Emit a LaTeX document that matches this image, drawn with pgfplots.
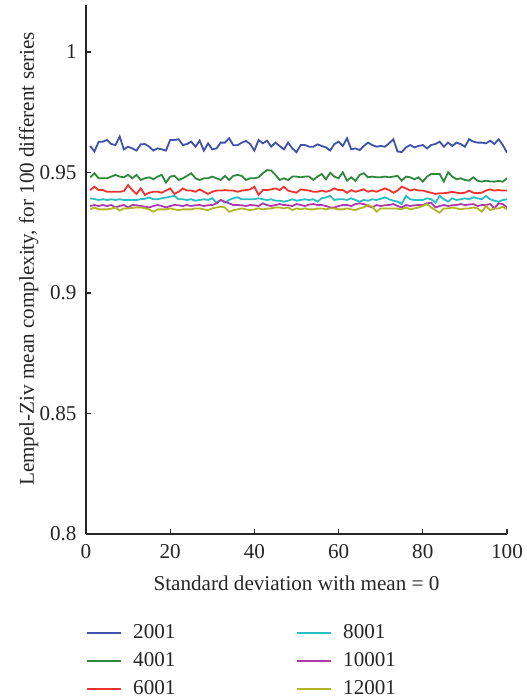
\documentclass[border=0pt]{standalone}
\usepackage{fontspec}
\setmainfont{Liberation Serif}
\usepackage{pgfplots}
\usepackage{pgfplotstable}
\pgfplotsset{compat=1.18}
\definecolor{cA}{RGB}{63,81,170}
\definecolor{cB}{RGB}{46,135,60}
\definecolor{cC}{RGB}{240,50,50}
\definecolor{cD}{RGB}{40,190,195}
\definecolor{cE}{RGB}{170,60,170}
\definecolor{cF}{RGB}{180,180,40}
\pgfplotstableread{
x a b c d e f
1 0.9610 0.9480 0.9427 0.9393 0.9361 0.9347
2 0.9587 0.9497 0.9441 0.9390 0.9365 0.9355
3 0.9627 0.9476 0.9427 0.9386 0.9361 0.9347
4 0.9628 0.9476 0.9427 0.9389 0.9365 0.9347
5 0.9635 0.9476 0.9420 0.9386 0.9361 0.9347
6 0.9618 0.9483 0.9420 0.9389 0.9365 0.9350
7 0.9614 0.9490 0.9420 0.9386 0.9355 0.9355
8 0.9649 0.9483 0.9420 0.9389 0.9361 0.9342
9 0.9596 0.9480 0.9423 0.9386 0.9365 0.9351
10 0.9607 0.9490 0.9448 0.9386 0.9355 0.9351
11 0.9600 0.9476 0.9427 0.9386 0.9365 0.9353
12 0.9591 0.9490 0.9411 0.9386 0.9364 0.9355
13 0.9617 0.9469 0.9434 0.9389 0.9361 0.9355
14 0.9618 0.9476 0.9407 0.9391 0.9358 0.9351
15 0.9607 0.9480 0.9416 0.9396 0.9355 0.9347
16 0.9591 0.9472 0.9420 0.9389 0.9361 0.9337
17 0.9600 0.9483 0.9420 0.9389 0.9365 0.9347
18 0.9596 0.9490 0.9416 0.9393 0.9361 0.9347
19 0.9591 0.9458 0.9425 0.9396 0.9355 0.9347
20 0.9635 0.9483 0.9434 0.9400 0.9361 0.9351
21 0.9635 0.9486 0.9411 0.9403 0.9365 0.9347
22 0.9638 0.9469 0.9420 0.9389 0.9364 0.9344
23 0.9614 0.9476 0.9434 0.9389 0.9361 0.9347
24 0.9618 0.9486 0.9425 0.9386 0.9365 0.9347
25 0.9628 0.9497 0.9425 0.9389 0.9361 0.9347
26 0.9607 0.9476 0.9420 0.9383 0.9364 0.9351
27 0.9632 0.9469 0.9430 0.9386 0.9365 0.9351
28 0.9591 0.9476 0.9420 0.9389 0.9361 0.9347
29 0.9621 0.9476 0.9411 0.9386 0.9364 0.9344
30 0.9596 0.9483 0.9420 0.9393 0.9365 0.9351
31 0.9600 0.9476 0.9425 0.9375 0.9372 0.9355
32 0.9624 0.9469 0.9425 0.9386 0.9386 0.9358
33 0.9624 0.9486 0.9427 0.9375 0.9379 0.9355
34 0.9642 0.9469 0.9425 0.9386 0.9372 0.9337
35 0.9613 0.9486 0.9425 0.9393 0.9365 0.9344
36 0.9613 0.9490 0.9420 0.9397 0.9365 0.9347
37 0.9624 0.9486 0.9425 0.9389 0.9364 0.9351
38 0.9631 0.9469 0.9427 0.9389 0.9361 0.9347
39 0.9618 0.9476 0.9430 0.9389 0.9365 0.9344
40 0.9591 0.9476 0.9441 0.9389 0.9364 0.9347
41 0.9635 0.9480 0.9407 0.9393 0.9361 0.9351
42 0.9621 0.9497 0.9427 0.9389 0.9372 0.9347
43 0.9632 0.9510 0.9427 0.9386 0.9365 0.9350
44 0.9607 0.9508 0.9430 0.9389 0.9361 0.9351
45 0.9624 0.9490 0.9434 0.9383 0.9365 0.9355
46 0.9610 0.9469 0.9427 0.9383 0.9369 0.9355
47 0.9596 0.9476 0.9441 0.9379 0.9365 0.9351
48 0.9624 0.9469 0.9425 0.9383 0.9364 0.9355
49 0.9600 0.9483 0.9420 0.9389 0.9361 0.9344
50 0.9584 0.9483 0.9416 0.9383 0.9369 0.9351
51 0.9614 0.9480 0.9430 0.9386 0.9365 0.9347
52 0.9614 0.9483 0.9427 0.9389 0.9361 0.9351
53 0.9607 0.9483 0.9425 0.9386 0.9367 0.9347
54 0.9607 0.9469 0.9420 0.9389 0.9369 0.9347
55 0.9617 0.9483 0.9420 0.9379 0.9365 0.9350
56 0.9610 0.9494 0.9425 0.9393 0.9365 0.9351
57 0.9604 0.9472 0.9420 0.9397 0.9361 0.9347
58 0.9591 0.9499 0.9425 0.9403 0.9355 0.9351
59 0.9618 0.9483 0.9434 0.9386 0.9355 0.9351
60 0.9628 0.9476 0.9427 0.9389 0.9361 0.9347
61 0.9610 0.9501 0.9427 0.9389 0.9365 0.9347
62 0.9642 0.9466 0.9416 0.9386 0.9365 0.9351
63 0.9596 0.9480 0.9427 0.9393 0.9361 0.9347
64 0.9600 0.9465 0.9420 0.9386 0.9369 0.9344
65 0.9593 0.9490 0.9425 0.9379 0.9372 0.9351
66 0.9610 0.9497 0.9430 0.9386 0.9369 0.9355
67 0.9624 0.9480 0.9420 0.9383 0.9361 0.9365
68 0.9614 0.9483 0.9425 0.9389 0.9355 0.9358
69 0.9607 0.9480 0.9420 0.9386 0.9365 0.9337
70 0.9610 0.9480 0.9427 0.9391 0.9361 0.9351
71 0.9607 0.9483 0.9434 0.9397 0.9364 0.9351
72 0.9621 0.9480 0.9427 0.9389 0.9365 0.9351
73 0.9638 0.9483 0.9416 0.9383 0.9369 0.9351
74 0.9587 0.9486 0.9425 0.9379 0.9361 0.9350
75 0.9585 0.9466 0.9441 0.9369 0.9355 0.9347
76 0.9604 0.9483 0.9434 0.9403 0.9365 0.9355
77 0.9614 0.9480 0.9425 0.9389 0.9361 0.9347
78 0.9604 0.9472 0.9430 0.9386 0.9364 0.9351
79 0.9610 0.9480 0.9425 0.9386 0.9365 0.9355
80 0.9614 0.9462 0.9425 0.9386 0.9365 0.9361
81 0.9600 0.9483 0.9420 0.9393 0.9372 0.9369
82 0.9614 0.9494 0.9416 0.9389 0.9375 0.9355
83 0.9618 0.9494 0.9411 0.9375 0.9355 0.9344
84 0.9628 0.9494 0.9414 0.9403 0.9361 0.9333
85 0.9607 0.9462 0.9414 0.9389 0.9365 0.9351
86 0.9624 0.9501 0.9416 0.9379 0.9361 0.9351
87 0.9610 0.9483 0.9420 0.9393 0.9364 0.9355
88 0.9624 0.9472 0.9416 0.9386 0.9365 0.9351
89 0.9618 0.9476 0.9414 0.9389 0.9369 0.9347
90 0.9607 0.9469 0.9416 0.9393 0.9365 0.9351
91 0.9638 0.9466 0.9425 0.9389 0.9367 0.9351
92 0.9628 0.9480 0.9416 0.9397 0.9369 0.9355
93 0.9624 0.9466 0.9414 0.9393 0.9361 0.9351
94 0.9624 0.9462 0.9416 0.9389 0.9365 0.9337
95 0.9621 0.9466 0.9425 0.9403 0.9365 0.9361
96 0.9632 0.9463 0.9430 0.9389 0.9369 0.9344
97 0.9618 0.9462 0.9425 0.9383 0.9351 0.9351
98 0.9638 0.9465 0.9427 0.9379 0.9372 0.9351
99 0.9614 0.9462 0.9425 0.9386 0.9369 0.9358
100 0.9582 0.9476 0.9425 0.9389 0.9355 0.9347
}\lzdata
\begin{document}
\fontsize{10.6}{12.7}\selectfont
\begin{tikzpicture}
\useasboundingbox (-43bp,-81.5bp) rectangle (220.5bp,267bp);
\begin{axis}[
  at={(0bp,0bp)}, anchor=south west,
  scale only axis, width=210.5bp, height=264.5bp,
  xmin=0, xmax=100, ymin=0.8, ymax=1.0195,
  axis lines*=left,
  axis line style={-, line width=0.7bp, color=black!85},
  tick align=inside, major tick length=2.5bp,
  tick style={black!85, line width=0.6bp},
  xtick={0,20,...,100}, ytick={0.8,0.85,0.9,0.95,1},
  /pgf/number format/assume math mode=true,
  ticklabel style={font=\fontsize{10.6}{12.7}\selectfont, text=black!85},
  xticklabel style={yshift=-1.5bp},
  yticklabel style={xshift=-1bp},
  label style={font=\fontsize{10.6}{12.7}\selectfont, text=black!85},
  xlabel={Standard deviation with mean = 0},
  ylabel={Lempel-Ziv mean complexity, for 100 different series},
  xlabel style={at={(axis description cs:0.5,-0.0926)}, anchor=center},
  ylabel style={at={(axis description cs:-0.136,0.52)}, anchor=center},
  legend columns=2,
  legend cell align=left,
  legend style={draw=none, fill=none, at={(axis description cs:0,-0.163)},
    anchor=north west, inner sep=0pt, font=\fontsize{10.6}{12.7}\selectfont,
    text=black!85, row sep=1.3bp,
    /tikz/every odd column/.append style={column sep=3.5bp},
    /tikz/every even column/.append style={column sep=58.5bp}},
  every axis plot/.append style={line width=0.9bp},
]
\addplot[cA] table[x=x,y=a] {\lzdata};
\addlegendentry{2001}
\addplot[cD] table[x=x,y=d] {\lzdata};
\addlegendentry{8001}
\addplot[cB] table[x=x,y=b] {\lzdata};
\addlegendentry{4001}
\addplot[cE] table[x=x,y=e] {\lzdata};
\addlegendentry{10001}
\addplot[cC] table[x=x,y=c] {\lzdata};
\addlegendentry{6001}
\addplot[cF] table[x=x,y=f] {\lzdata};
\addlegendentry{12001}
\end{axis}
\end{tikzpicture}
\end{document}
